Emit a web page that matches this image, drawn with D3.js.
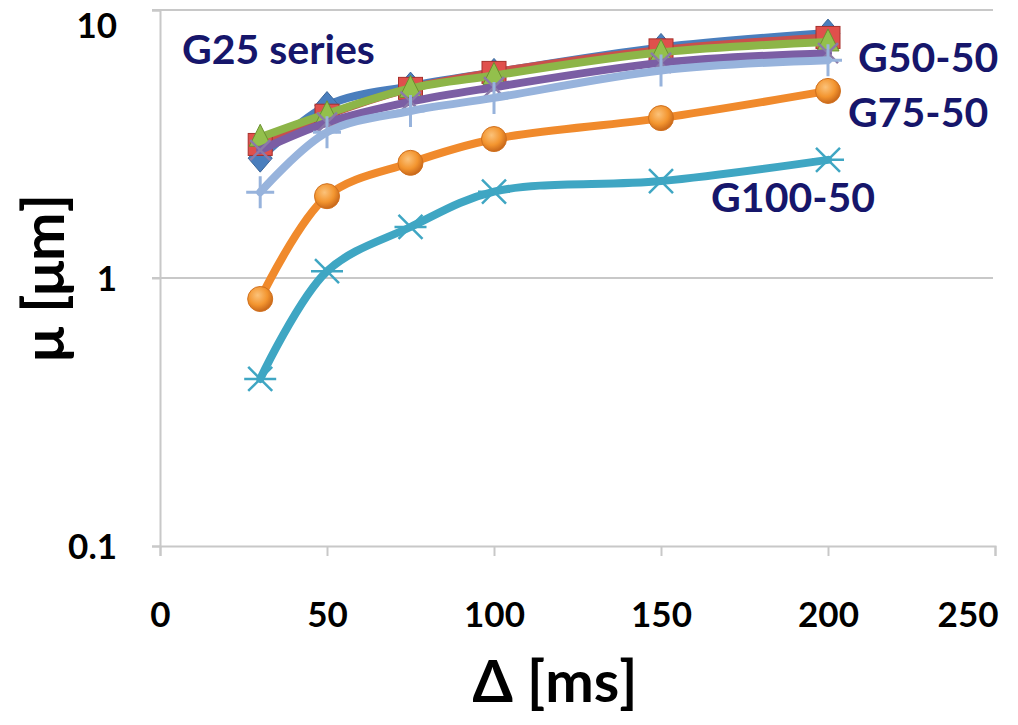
<html>
<head>
<script src="https://d3js.org/d3.v7.min.js"></script>
<style>
  body { margin: 0; background: #fff; }
  text { font-family: Lato, "Open Sans", sans-serif; font-weight: bold; }
</style>
</head>
<body>
<svg id="chart" width="1018" height="725"></svg>
<script>
// data
const delta = [30, 50, 75, 100, 150, 200];
const blueDiamond = [2.8, 4.4, 5.2, 5.85, 7.25, 8.2];
const redSquare = [3.15, 4.05, 5.1, 5.85, 7.1, 7.9];
const greenTriangle = [3.35, 4.1, 5.1, 5.7, 6.95, 7.6];
const purpleX = [3.0, 3.8, 4.55, 5.15, 6.35, 6.9];
const aquaStar = [0.42, 1.06, 1.55, 2.1, 2.3, 2.76];
const orangeCircle = [0.835, 2.02, 2.69, 3.3, 3.95, 4.99];
const lightPlus = [2.09, 3.5, 4.2, 4.7, 5.95, 6.5];
const xTicks = [0, 50, 100, 150, 200, 250];
const yTicks = [0.1, 1, 10];
const labels = [
  {text: "G25 series", x: 6.6, y: 6.3},
  {text: "G50-50", x: 209, y: 5.85},
  {text: "G75-50", x: 206, y: 3.65},
  {text: "G100-50", x: 165, y: 1.76}
];

const series = [
  {vals: blueDiamond, color: "#4a7ebd", marker: "diamond"},
  {vals: redSquare, color: "#c9504c", marker: "square"},
  {vals: greenTriangle, color: "#8db548", marker: "triangle"},
  {vals: purpleX, color: "#7b5ea4", marker: "x"},
  {vals: aquaStar, color: "#3fa6c3", marker: "star"},
  {vals: orangeCircle, color: "#f08a2c", marker: "circle"},
  {vals: lightPlus, color: "#97b3dc", marker: "plus"}
];

const svg = d3.select('#chart');
const x = d3.scaleLinear().domain([0, 250]).range([160, 995]);
const y = d3.scaleLog().domain([0.1, 10]).range([546, 10]);

// gradient for orange circles
const defs = svg.append('defs');
const grad = defs.append('radialGradient').attr('id', 'orangeGrad')
  .attr('cx', '40%').attr('cy', '35%').attr('r', '65%');
grad.append('stop').attr('offset', '0%').attr('stop-color', '#fbc27a');
grad.append('stop').attr('offset', '60%').attr('stop-color', '#f3952f');
grad.append('stop').attr('offset', '100%').attr('stop-color', '#c9681a');

// gridlines
svg.append('g').selectAll('line').data(yTicks.slice(1)).join('line')
  .attr('x1', 152).attr('x2', 993)
  .attr('y1', d => y(d)).attr('y2', d => y(d))
  .attr('stroke', '#c8c8c8').attr('stroke-width', 2);

// axes
let leftAxis = d3.axisLeft(y).tickValues(yTicks).tickFormat(d => d).tickSize(8).tickPadding(35);
let gy = svg.append('g').attr('transform', 'translate(160,0)').call(leftAxis);
let bottomAxis = d3.axisBottom(x).tickValues(xTicks).tickSize(10).tickPadding(46);
let gx = svg.append('g').attr('transform', `translate(0,${y(0.1)})`).call(bottomAxis);
[gx, gy].forEach(g => {
  g.selectAll('.domain').attr('stroke', '#c8c8c8').attr('stroke-width', 2);
  g.selectAll('.tick line').attr('stroke', '#c8c8c8').attr('stroke-width', 2);
  g.selectAll('.tick text').attr('font-size', 35).attr('fill', '#000')
    .style('font-family', 'Lato, sans-serif').style('font-weight', 'bold');
});
gy.selectAll('.tick text').attr('dy', '0.35em');
gy.selectAll('.tick').filter(d => d === 10).select('text').attr('dy', 27);
gx.selectAll('.tick').filter(d => d === 250).select('text')
  .attr('text-anchor', 'end').attr('x', 3);

// axis titles
svg.append('text').attr('x', 555).attr('y', 702).attr('text-anchor', 'middle')
  .attr('font-size', 58).attr('fill', '#000').text('Δ [ms]');
svg.append('text').attr('transform', 'translate(64,278) rotate(-90)')
  .attr('text-anchor', 'middle').attr('font-size', 58).attr('fill', '#000').text('μ [μm]');

const line = d3.line().x((d, i) => x(delta[i])).y(d => y(d)).curve(d3.curveCatmullRom.alpha(0.5));

function drawMarker(g, type, color) {
  const dark = d3.color(color).darker(0.6);
  if (type === 'diamond') {
    g.append('path').attr('d', 'M0,-14L12,0L0,14L-12,0Z').attr('fill', color).attr('stroke', dark).attr('stroke-width', 1);
  } else if (type === 'square') {
    g.append('rect').attr('x', -12).attr('y', -11).attr('width', 24).attr('height', 22)
      .attr('fill', '#e0504c').attr('stroke', '#a8302c').attr('stroke-width', 1);
  } else if (type === 'triangle') {
    g.append('path').attr('d', 'M0,-13L11,9L-11,9Z').attr('fill', '#93c04c').attr('stroke', '#6b9030').attr('stroke-width', 1);
  } else if (type === 'x') {
    g.append('path').attr('d', 'M-10,-10L10,10M-10,10L10,-10').attr('stroke', '#8b7aa8').attr('stroke-width', 2.5);
  } else if (type === 'star') {
    g.append('path').attr('d', 'M-12,-12L12,12M-12,12L12,-12M-16,0L16,0').attr('stroke', color).attr('stroke-width', 2.5);
  } else if (type === 'circle') {
    g.append('circle').attr('r', 12.5).attr('fill', 'url(#orangeGrad)').attr('stroke', '#d0701e').attr('stroke-width', 1);
  } else if (type === 'plus') {
    g.append('path').attr('d', 'M0,-16L0,16M-14,0L14,0').attr('stroke', color).attr('stroke-width', 3);
  }
}

series.forEach(s => {
  svg.append('path').datum(s.vals).attr('d', line)
    .attr('fill', 'none').attr('stroke', s.color).attr('stroke-width', 8)
    .attr('stroke-linejoin', 'round').attr('stroke-linecap', 'round');
  s.vals.forEach((v, i) => {
    const g = svg.append('g').attr('transform', `translate(${x(delta[i])},${y(v)})`);
    drawMarker(g, s.marker, s.color);
  });
});

// series labels
svg.append('g').selectAll('text').data(labels).join('text')
  .attr('x', d => x(d.x)).attr('y', d => y(d.y))
  .attr('font-size', 41).attr('fill', '#16166b').text(d => d.text);
</script>
</body>
</html>
